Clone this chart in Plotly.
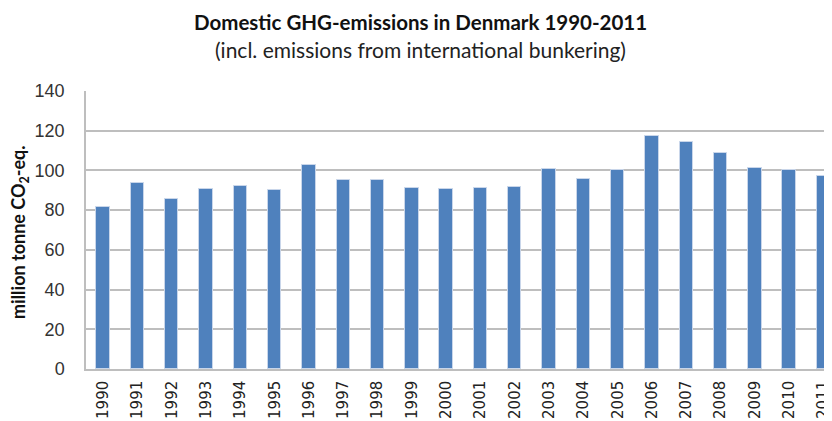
import plotly.graph_objects as go

years = [str(y) for y in range(1990, 2012)]
emissions = [81.4, 93.8, 85.6, 90.5, 92.3, 90.0, 102.6, 95.0, 95.0, 91.3, 90.5,
             91.0, 91.8, 100.9, 95.8, 100.0, 117.5, 114.1, 108.8, 101.4, 100.0, 97.2]
y_ticks = [0, 20, 40, 60, 80, 100, 120, 140]

# page body has an 8px default margin; compensate so the figure fills the window
OFF = 8
W, H = 832 - OFF, 421 - OFF
L, R, T, B = 86 - OFF, 0, 91 - OFF, 421 - 369
pw = W - L - R
ph = H - T - B

def py(y_page):
    return (H - B - (y_page - OFF)) / ph

def px(x_page):
    return (x_page - OFF - L) / pw

fig = go.Figure()
fig.add_trace(go.Bar(
    x=list(range(len(years))), y=emissions, width=0.39,
    marker=dict(color="#4F81BD", line=dict(color="#C9D6EA", width=1)),
))

fig.update_layout(
    width=W, height=H,
    margin=dict(l=L, r=R, t=T, b=B, autoexpand=False),
    paper_bgcolor="white", plot_bgcolor="white",
    showlegend=False,
    bargap=0,
    xaxis=dict(
        range=[-0.5, 21.25], automargin=False,
        tickmode="array", tickvals=list(range(len(years))), ticktext=years,
        tickangle=-90, showgrid=False, showline=True, linecolor="#BEBEBE", linewidth=1.5,
        ticks="", ticklabelstandoff=4, ticklabeloverflow="allow",
        tickfont=dict(family="DejaVu Sans", size=15, color="#222222"),
        fixedrange=True,
    ),
    yaxis=dict(
        range=[0, 140], tickmode="array", tickvals=y_ticks, automargin=False,
        showgrid=True, gridcolor="#BEBEBE", gridwidth=1.5,
        showline=True, linecolor="#BEBEBE", linewidth=1.5,
        zeroline=False, ticks="", ticklabelstandoff=16,
        tickfont=dict(family="Liberation Sans", size=18, color="#333333"),
        fixedrange=True,
    ),
    annotations=[
        dict(text="<b>Domestic GHG-emissions in Denmark 1990-2011</b>",
             xref="paper", yref="paper", x=px(420), y=py(22),
             xanchor="center", yanchor="middle", showarrow=False,
             font=dict(family="Lato", size=20.5, color="#111111")),
        dict(text="(incl. emissions from international bunkering)",
             xref="paper", yref="paper", x=px(420), y=py(49),
             xanchor="center", yanchor="middle", showarrow=False,
             font=dict(family="Lato", size=21, color="#222222")),
        dict(text="<b>million tonne CO<sub>2</sub>-eq.</b>",
             xref="paper", yref="paper", x=px(19), y=py(232),
             xanchor="center", yanchor="middle", textangle=-90, showarrow=False,
             font=dict(family="Lato", size=18, color="#111111")),
    ],
)

fig.write_html("out.html")
